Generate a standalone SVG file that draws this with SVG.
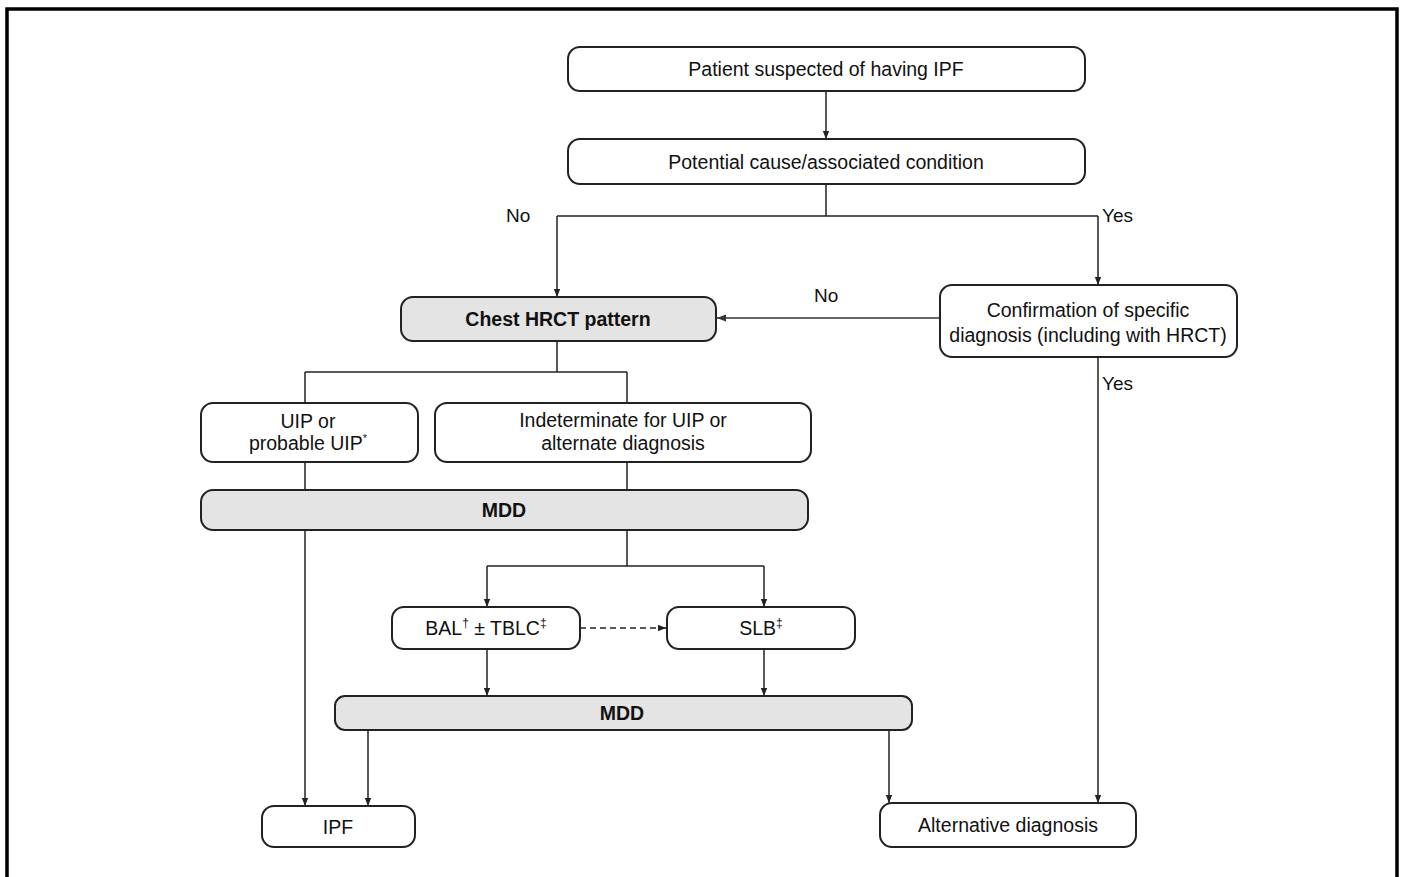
<svg xmlns="http://www.w3.org/2000/svg" width="1405" height="877" viewBox="0 0 1405 877">
<defs>
<marker id="ah" viewBox="0 0 10 10" refX="10" refY="5" markerWidth="8" markerHeight="8" markerUnits="userSpaceOnUse" orient="auto">
<path d="M0,1 L10,5 L0,9 Z" fill="#222"/>
</marker>
<marker id="ahg" viewBox="0 0 10 10" refX="10" refY="5" markerWidth="9" markerHeight="9" markerUnits="userSpaceOnUse" orient="auto">
<path d="M0,1 L10,5 L0,9 Z" fill="#333"/>
</marker>
</defs>
<style>
.box{fill:#fff;stroke:#222;stroke-width:2}
.gbox{fill:#e4e4e4;stroke:#222;stroke-width:2}
.t{font-family:"Liberation Sans",Arial,sans-serif;font-size:19.5px;fill:#111;text-anchor:middle}
.b{font-weight:bold}
.lbl{font-family:"Liberation Sans",Arial,sans-serif;font-size:19px;fill:#111}
.c{fill:none;stroke:#222;stroke-width:1.5}
.a{marker-end:url(#ah)}
</style>
<rect width="1405" height="877" fill="#fff"/>
<path d="M7,877 V9 H1397 V877" fill="none" stroke="#000" stroke-width="3.5"/>

<g id="connectors">
<path class="c a" d="M826,91 V139"/>
<path class="c" d="M826,184 V216 M557,216 H1098"/>
<path class="c a" d="M557,216 V297"/>
<path class="c a" d="M1098,216 V285"/>
<path class="c" d="M940,318 H717" style="stroke:#666;stroke-width:2;marker-end:url(#ahg)"/>
<path class="c a" d="M1098,357 V803"/>
<path class="c" d="M557,341 V372 M305,372 H627 M305,372 V403 M627,372 V403"/>
<path class="c" d="M305,462 V490 M627,462 V490"/>
<path class="c a" d="M305,530 V806"/>
<path class="c" d="M627,530 V566 M487,566 H764"/>
<path class="c a" d="M487,566 V607"/>
<path class="c a" d="M764,566 V607"/>
<path class="c a" d="M580,628 H666" stroke-dasharray="6,4"/>
<path class="c a" d="M487,649 V696"/>
<path class="c a" d="M764,649 V696"/>
<path class="c a" d="M368,730 V806"/>
<path class="c a" d="M889,730 V803"/>
<text class="lbl" x="506" y="222">No</text>
<text class="lbl" x="1102" y="222">Yes</text>
<text class="lbl" x="814" y="302">No</text>
<text class="lbl" x="1102" y="390">Yes</text>
</g>

<g id="n-patient">
<rect class="box" x="568" y="47" width="517" height="44" rx="12"/>
<text class="t" x="826" y="76">Patient suspected of having IPF</text>
</g>
<g id="n-potential">
<rect class="box" x="568" y="139" width="517" height="45" rx="12"/>
<text class="t" x="826" y="169">Potential cause/associated condition</text>
</g>
<g id="n-chest">
<rect class="gbox" x="401" y="297" width="315" height="44" rx="12"/>
<text class="t b" x="558" y="326">Chest HRCT pattern</text>
</g>
<g id="n-confirm">
<rect class="box" x="940" y="285" width="297" height="72" rx="12"/>
<text class="t" x="1088" y="317">Confirmation of specific</text>
<text class="t" x="1088" y="342">diagnosis (including with HRCT)</text>
</g>
<g id="n-uip">
<rect class="box" x="201" y="403" width="217" height="59" rx="12"/>
<text class="t" x="308" y="428">UIP or</text>
<text class="t" x="308" y="450">probable UIP<tspan font-size="11" dy="-8">*</tspan></text>
</g>
<g id="n-indet">
<rect class="box" x="435" y="403" width="376" height="59" rx="12"/>
<text class="t" x="623" y="427">Indeterminate for UIP or</text>
<text class="t" x="623" y="450">alternate diagnosis</text>
</g>
<g id="n-mdd1">
<rect class="gbox" x="201" y="490" width="607" height="40" rx="12"/>
<text class="t b" x="504" y="517">MDD</text>
</g>
<g id="n-bal">
<rect class="box" x="392" y="607" width="188" height="42" rx="12"/>
<text class="t" x="486" y="635">BAL<tspan font-size="12" dy="-8">†</tspan><tspan dy="8"> ± TBLC</tspan><tspan font-size="12" dy="-8">‡</tspan></text>
</g>
<g id="n-slb">
<rect class="box" x="667" y="607" width="188" height="42" rx="12"/>
<text class="t" x="761" y="635">SLB<tspan font-size="12" dy="-8">‡</tspan></text>
</g>
<g id="n-mdd2">
<rect class="gbox" x="335" y="696" width="577" height="34" rx="10"/>
<text class="t b" x="622" y="720">MDD</text>
</g>
<g id="n-ipf">
<rect class="box" x="262" y="806" width="153" height="41" rx="12"/>
<text class="t" x="338" y="834">IPF</text>
</g>
<g id="n-alt">
<rect class="box" x="880" y="803" width="256" height="44" rx="12"/>
<text class="t" x="1008" y="832">Alternative diagnosis</text>
</g>
</svg>
